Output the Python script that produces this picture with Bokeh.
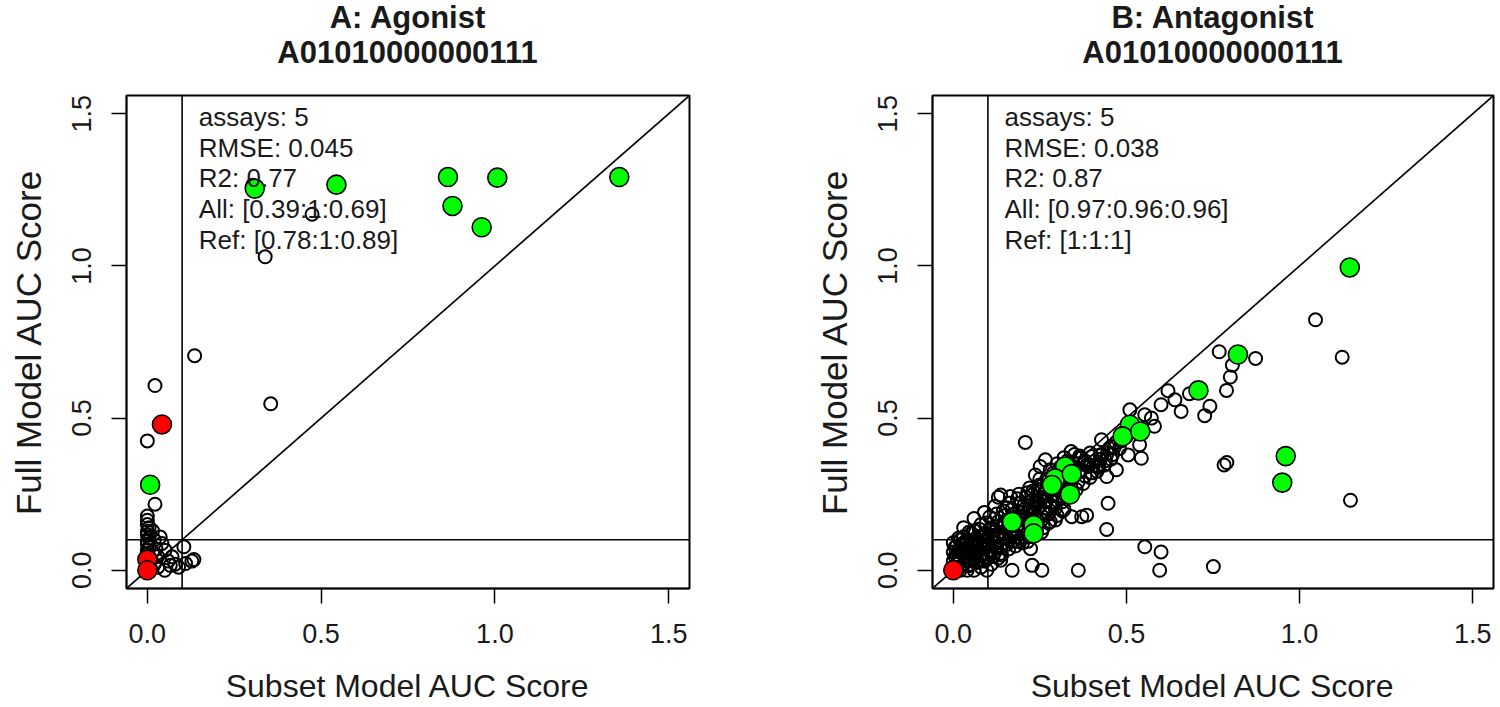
from bokeh.plotting import figure
from bokeh.models import Span, Slope, FixedTicker, Range1d, Div
from bokeh.layouts import row, column
from bokeh.embed import file_html
from bokeh.resources import INLINE
from bokeh.core.properties import value

# ---------------- data ----------------
tick_values = [0.0, 0.5, 1.0, 1.5]
tick_labels = ["0.0", "0.5", "1.0", "1.5"]
axis_lim = [0.0, 1.5]
threshold = 0.1
x_label = "Subset Model AUC Score"
y_label = "Full Model AUC Score"

ag_title = "A: Agonist"
ag_chem = "A01010000000111"
ag_stats = ["assays: 5", "RMSE: 0.045", "R2: 0.77", "All: [0.39:1:0.69]", "Ref: [0.78:1:0.89]"]

ag_open_x = [0.303, 0.474, 0.339, 0.136, 0.355, 0.022, 0.000, 0.022, 0.000,
             0.000, 0.000, 0.005, 0.000, 0.000, 0.005, 0.000, 0.000, 0.005, 0.000,
             0.000, 0.005, 0.000, 0.000, 0.005, 0.000, 0.010,
             0.037, 0.042, 0.051, 0.071, 0.066, 0.105, 0.110, 0.134, 0.128, 0.020,
             0.030, 0.025, 0.020, 0.015, 0.060, 0.080, 0.090, 0.030, 0.050, 0.015]
ag_open_y = [1.265, 1.170, 1.030, 0.705, 0.547, 0.607, 0.425, 0.217, 0.178,
             0.164, 0.150, 0.140, 0.128, 0.116, 0.105, 0.095, 0.085, 0.075, 0.065,
             0.055, 0.045, 0.035, 0.025, 0.015, 0.010, 0.005,
             0.109, 0.088, 0.066, 0.044, 0.016, 0.077, 0.022, 0.035, 0.030, 0.020,
             0.045, 0.070, 0.100, 0.130, 0.030, 0.020, 0.010, 0.010, 0.000, 0.060]
ag_green_x = [0.309, 0.544, 0.865, 0.878, 1.007, 0.962, 1.358, 0.008]
ag_green_y = [1.254, 1.267, 1.292, 1.197, 1.290, 1.127, 1.292, 0.281]
ag_red_x = [0.000, 0.042, 0.000]
ag_red_y = [0.035, 0.479, 0.000]

an_title = "B: Antagonist"
an_chem = "A01010000000111"
an_stats = ["assays: 5", "RMSE: 0.038", "R2: 0.87", "All: [0.97:0.96:0.96]", "Ref: [1:1:1]"]

an_open_x = [
    1.046, 1.123, 1.147, 0.782, 0.790, 0.751, 0.768, 0.873, 0.806, 0.800,
    0.789, 0.741, 0.726, 0.682, 0.658, 0.600, 0.581, 0.553, 0.572, 0.510,
    0.538, 0.543, 0.505, 0.457, 0.428, 0.424, 0.471, 0.443, 0.447, 0.443,
    0.385, 0.371, 0.342, 0.400, 0.414, 0.380, 0.366, 0.208, 0.266, 0.251,
    0.237, 0.137, 0.165, 0.228, 0.553, 0.600, 0.596, 0.361, 0.256,
    0.228, 0.170, 0.097, 0.137, 0.223, 0.620, 0.640,
    0.000, 0.005, 0.010, 0.000, 0.010, 0.020, 0.020, 0.030, 0.030, 0.000,
    0.010, 0.020, 0.040, 0.040, 0.050, 0.050, 0.060, 0.060, 0.000, 0.020,
    0.030, 0.070, 0.070, 0.080, 0.080, 0.090, 0.090, 0.100, 0.100, 0.050,
    0.040, 0.060, 0.110, 0.120, 0.120, 0.130, 0.140, 0.140, 0.150, 0.160,
    0.160, 0.170, 0.180, 0.180, 0.190, 0.200, 0.200, 0.210, 0.220, 0.220,
    0.230, 0.240, 0.240, 0.250, 0.260, 0.260, 0.270, 0.280, 0.280, 0.290,
    0.300, 0.300, 0.310, 0.320, 0.320, 0.330, 0.340, 0.340, 0.350, 0.360,
    0.360, 0.370, 0.380, 0.380, 0.390, 0.400, 0.410, 0.420, 0.430, 0.440,
    0.450, 0.460, 0.470, 0.480, 0.500, 0.520, 0.130, 0.110, 0.150, 0.170,
    0.190, 0.210, 0.230, 0.250, 0.270, 0.290, 0.310, 0.330, 0.350, 0.100,
    0.120, 0.140, 0.160, 0.180, 0.200, 0.220, 0.240, 0.260, 0.280, 0.300,
    0.320, 0.150, 0.190, 0.230, 0.270, 0.030, 0.060, 0.090, 0.120, 0.080,
    0.130, 0.160, 0.190, 0.220, 0.250, 0.280, 0.300, 0.320, 0.340, 0.070,
    0.090, 0.110, 0.130, 0.050, 0.040, 0.020, 0.060, 0.080,
    0.015, 0.025, 0.035, 0.045, 0.055, 0.065, 0.075, 0.085, 0.095, 0.105,
    0.115, 0.125, 0.135, 0.145, 0.155, 0.165, 0.175, 0.185, 0.195, 0.205,
    0.215, 0.225, 0.235, 0.245, 0.255, 0.265, 0.275, 0.285, 0.295, 0.305,
    0.315, 0.325, 0.335, 0.345, 0.355, 0.365, 0.375, 0.385, 0.395, 0.405,
    0.415, 0.425, 0.435, 0.445, 0.455, 0.465, 0.485, 0.495, 0.105, 0.145,
    0.175, 0.205, 0.235, 0.265, 0.295, 0.325, 0.345, 0.365, 0.395, 0.045,
    0.075, 0.095, 0.125, 0.155, 0.185, 0.215, 0.245, 0.275, 0.305, 0.085,
    0.005, 0.015, 0.005, 0.015, 0.035, 0.045, 0.065, 0.075, 0.095, 0.115,
    0.135, 0.155, 0.175, 0.195, 0.215, 0.235, 0.255, 0.275, 0.295, 0.315,
    0.025, 0.035, 0.055, 0.065, 0.085, 0.105, 0.115, 0.125, 0.135, 0.145,
    0.165, 0.175, 0.185, 0.195, 0.205, 0.225, 0.235, 0.245, 0.255, 0.265,
    0.285, 0.305, 0.315, 0.335, 0.045, 0.065, 0.085, 0.105, 0.125, 0.145]
an_open_y = [
    0.823, 0.700, 0.230, 0.346, 0.354, 0.012, 0.718, 0.696, 0.674, 0.635,
    0.591, 0.539, 0.508, 0.580, 0.522, 0.544, 0.473, 0.511, 0.500, 0.527,
    0.412, 0.368, 0.379, 0.407, 0.429, 0.379, 0.330, 0.308, 0.220, 0.134,
    0.181, 0.176, 0.176, 0.374, 0.341, 0.352, 0.368, 0.420, 0.363, 0.341,
    0.313, 0.247, 0.242, 0.247, 0.077, 0.060, 0.000, 0.000, 0.000,
    0.016, 0.000, 0.000, 0.033, 0.071, 0.590, 0.560,
    0.000, 0.010, 0.020, 0.030, 0.050, 0.010, 0.040, 0.020, 0.060, 0.060,
    0.080, 0.070, 0.030, 0.070, 0.050, 0.090, 0.040, 0.080, 0.090, 0.100,
    0.110, 0.060, 0.100, 0.050, 0.090, 0.070, 0.120, 0.080, 0.110, 0.120,
    0.100, 0.130, 0.060, 0.090, 0.130, 0.110, 0.080, 0.140, 0.120, 0.100,
    0.160, 0.130, 0.110, 0.170, 0.150, 0.130, 0.190, 0.170, 0.150, 0.210,
    0.190, 0.170, 0.230, 0.210, 0.190, 0.250, 0.230, 0.210, 0.270, 0.250,
    0.230, 0.290, 0.270, 0.250, 0.310, 0.290, 0.270, 0.330, 0.310, 0.290,
    0.350, 0.330, 0.310, 0.360, 0.340, 0.320, 0.360, 0.340, 0.380, 0.360,
    0.400, 0.380, 0.420, 0.400, 0.440, 0.460, 0.160, 0.140, 0.180, 0.200,
    0.220, 0.240, 0.260, 0.280, 0.300, 0.320, 0.340, 0.360, 0.380, 0.040,
    0.060, 0.050, 0.070, 0.080, 0.090, 0.110, 0.130, 0.140, 0.160, 0.180,
    0.200, 0.150, 0.190, 0.230, 0.270, 0.140, 0.170, 0.190, 0.210, 0.150,
    0.240, 0.220, 0.250, 0.270, 0.300, 0.330, 0.350, 0.370, 0.390, 0.030,
    0.030, 0.020, 0.040, 0.020, 0.000, 0.000, 0.000, 0.010,
    0.035, 0.085, 0.045, 0.015, 0.065, 0.105, 0.045, 0.075, 0.095, 0.135,
    0.095, 0.115, 0.075, 0.105, 0.135, 0.115, 0.155, 0.095, 0.135, 0.165,
    0.125, 0.185, 0.145, 0.205, 0.165, 0.225, 0.185, 0.245, 0.205, 0.265,
    0.225, 0.285, 0.245, 0.305, 0.265, 0.325, 0.285, 0.345, 0.305, 0.345,
    0.325, 0.365, 0.345, 0.385, 0.365, 0.405, 0.425, 0.455, 0.175, 0.195,
    0.185, 0.215, 0.205, 0.255, 0.275, 0.335, 0.355, 0.375, 0.385, 0.125,
    0.135, 0.155, 0.185, 0.205, 0.235, 0.255, 0.265, 0.295, 0.315, 0.115,
    0.045, 0.065, 0.075, 0.105, 0.085, 0.055, 0.025, 0.085, 0.055, 0.045,
    0.055, 0.085, 0.095, 0.105, 0.095, 0.115, 0.125, 0.155, 0.165, 0.195,
    0.055, 0.095, 0.085, 0.055, 0.095, 0.085, 0.115, 0.145, 0.125, 0.155,
    0.145, 0.125, 0.175, 0.165, 0.145, 0.165, 0.185, 0.225, 0.235, 0.205,
    0.225, 0.245, 0.285, 0.265, 0.035, 0.075, 0.035, 0.065, 0.075, 0.125]
an_green_x = [1.145, 0.960, 0.950, 0.822, 0.708, 0.510, 0.489, 0.540,
              0.323, 0.294, 0.342, 0.337, 0.285, 0.170, 0.232, 0.232]
an_green_y = [0.995, 0.375, 0.288, 0.709, 0.591, 0.478, 0.440, 0.456,
              0.341, 0.302, 0.316, 0.249, 0.280, 0.159, 0.148, 0.121]
an_red_x = [0.000]
an_red_y = [0.000]

FONT = "Liberation Sans"
TXT = "#1a1a1a"
HEAD_H = 70


def make_panel(title, chem, stats, ox, oy, gx, gy, rx, ry, width, b_left, b_right, frame_w):
    pad = 0.04 * (axis_lim[1] - axis_lim[0])
    rng = (axis_lim[0] - pad, axis_lim[1] + pad)
    p = figure(width=width, height=707 - HEAD_H, output_backend="svg",
               toolbar_location=None, tools="", title_location=None,
               x_range=Range1d(*rng), y_range=Range1d(*rng),
               min_border_left=b_left, min_border_right=b_right,
               min_border_top=95 - HEAD_H, min_border_bottom=119)
    p.grid.visible = False
    p.outline_line_color = "black"
    p.outline_line_width = 2
    p.background_fill_color = "white"
    p.border_fill_color = "white"

    for ax in (p.xaxis[0], p.yaxis[0]):
        ax.ticker = FixedTicker(ticks=tick_values)
        ax.major_label_overrides = dict(zip(tick_values, tick_labels))
        ax.major_tick_in = 0
        ax.major_tick_out = 15
        ax.minor_tick_line_color = None
        ax.axis_line_color = "black"
        ax.axis_line_width = 1.5
        ax.major_tick_line_width = 1.5
        ax.major_label_text_font = FONT
        ax.major_label_text_font_size = "27px"
        ax.major_label_text_color = TXT
        ax.axis_label_text_font = FONT
        ax.axis_label_text_font_style = "normal"
        ax.axis_label_text_color = TXT
    p.xaxis.axis_label = x_label
    p.yaxis.axis_label = y_label
    p.xaxis.axis_label_text_font_size = "32px"
    p.yaxis.axis_label_text_font_size = "35px"
    p.xaxis.major_label_standoff = 20
    p.xaxis.axis_label_standoff = 22
    p.yaxis.major_label_standoff = 20
    p.yaxis.major_label_orientation = "vertical"
    p.yaxis.axis_label_standoff = 22

    for dim in ("height", "width"):
        p.add_layout(Span(location=threshold, dimension=dim, line_color="black",
                          line_width=1.6, level="underlay"))
    p.add_layout(Slope(gradient=1, y_intercept=0, line_color="black",
                       line_width=1.6, level="underlay"))

    p.scatter(ox, oy, marker="circle", size=13, fill_color=None,
              line_color="black", line_width=2)
    p.scatter(gx, gy, marker="circle", size=19, fill_color="#00FF00",
              line_color="black", line_width=1.6)
    p.scatter(rx, ry, marker="circle", size=19, fill_color="#FF0000",
              line_color="black", line_width=1.6)

    sx = [0.148] * len(stats)
    sy = [1.49 - 0.101 * i for i in range(len(stats))]
    p.text(sx, sy, text=stats, text_font=value(FONT), text_font_size="26px",
           text_baseline="middle", text_align="left", text_color=TXT)

    head = Div(
        text=(f'<div style="width:{frame_w}px;margin-left:{b_left}px;text-align:center;'
              f'font-family:\'{FONT}\',Arial,sans-serif;font-weight:bold;font-size:31px;'
              f'line-height:35px;color:{TXT};white-space:nowrap;">'
              f'{title}<br>{chem}</div>'),
        width=width, height=HEAD_H, margin=0)
    return column(head, p, spacing=0)


pA = make_panel(ag_title, ag_chem, ag_stats, ag_open_x, ag_open_y,
                ag_green_x, ag_green_y, ag_red_x, ag_red_y, 808, 126, 119, 563)
pB = make_panel(an_title, an_chem, an_stats, an_open_x, an_open_y,
                an_green_x, an_green_y, an_red_x, an_red_y, 688, 124, 3, 561)

layout = row(pA, pB, spacing=0)
open("out.html", "w").write(file_html(layout, INLINE))
